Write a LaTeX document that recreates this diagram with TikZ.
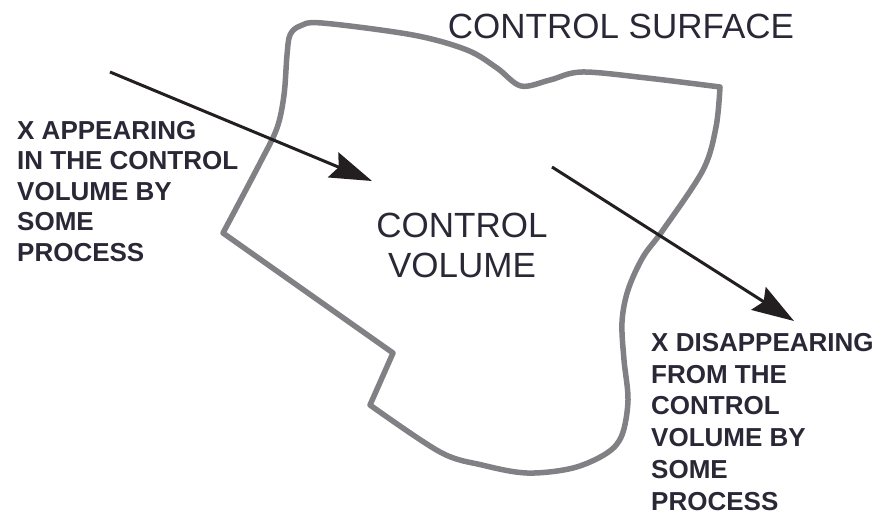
\documentclass[tikz,border=0pt]{standalone}
\usepackage{fontspec}
\setmainfont{Liberation Sans}
\usetikzlibrary{arrows.meta}
\definecolor{txt}{HTML}{2A2836}
\definecolor{surf}{HTML}{818185}
\definecolor{arr}{HTML}{231F20}
\tikzset{
  surface/.style={draw=surf, line width=5.5pt, line join=round},
  flow/.style={draw=arr, line width=3pt, -{Stealth[length=42pt,width=27pt,inset=6pt]}},
  biglabel/.style={text=txt, font=\fontsize{35}{40}\selectfont, inner sep=0pt},
  smalllabel/.style={text=txt, font=\bfseries\fontsize{26}{30.5}\selectfont, inner sep=0pt, align=left, anchor=north west}
}
\begin{document}
\begin{tikzpicture}[x=1pt,y=-1pt]
\useasboundingbox (0,0) rectangle (874,514);
% control surface
\draw[surface] (223,233)
  -- plot[smooth, tension=0.55] coordinates {(223,233) (260,163) (277,128) (284,95) (287,55) (290,35) (300,26) (322,23) (413,35) (467,50) (497,68) (521,86) (550,80) (582,72) (647,78) (720,87)}
  -- plot[smooth, tension=0.55] coordinates {(720,87) (716,127) (703,170) (663,230) (643,257) (628,290) (622,322) (624,360) (628,400) (622,435) (607,453) (573,468) (527,473) (482,465) (440,452) (370,405)}
  -- (393,353) -- cycle;
% arrows
\coordinate (a1s) at (110,72);
\coordinate (a1e) at (372,181);
\coordinate (a2s) at (552,167);
\coordinate (a2e) at (794,321);
\draw[flow] (a1s) -- (a1e);
\draw[flow] (a2s) -- (a2e);
% labels
\node[biglabel, anchor=base] (cs) at (621,38) {CONTROL SURFACE};
\node[biglabel, align=center, anchor=north] (cv) at (462,213) {CONTROL\\VOLUME};
\node[smalllabel] (lin) at (17,121) {X APPEARING\\IN THE CONTROL\\VOLUME BY\\SOME\\PROCESS};
\node[smalllabel, font=\bfseries\fontsize{26}{31.8}\selectfont] (lout) at (651,333) {X DISAPPEARING\\FROM THE\\CONTROL\\VOLUME BY\\SOME\\PROCESS};
\end{tikzpicture}
\end{document}
